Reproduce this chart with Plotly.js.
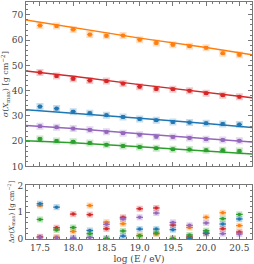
<!DOCTYPE html>
<html><head><meta charset="utf-8">
<script src="https://cdn.plot.ly/plotly-3.0.1.min.js"></script>
<style>html,body{margin:0;padding:0;background:#fff}#c{width:254px;height:264px}</style>
</head><body><div id="c"></div>
<script>
const logE = [17.5,17.75,18.0,18.25,18.5,18.75,19.0,19.25,19.5,19.75,20.0,20.25,20.5];
const fitX = [17.29,18.0,19.0,20.0,20.69];

const sigOrange = [65.8,65.6,64.2,62.2,61.7,61.8,60.2,58.9,58.2,57.6,57.0,54.8,54.2];
const sigRed    = [47.2,45.8,44.7,44.0,43.8,42.8,41.6,40.7,40.6,40.0,39.0,38.2,37.6];
const sigBlue   = [33.7,32.9,31.7,31.1,30.3,29.6,28.8,28.3,27.6,27.4,27.1,26.8,26.6];
const sigPurple = [25.9,25.5,25.0,24.5,23.7,23.2,22.6,21.8,21.7,21.3,20.8,20.5,20.2];
const sigGreen  = [20.9,20.1,19.8,19.3,18.6,18.1,17.7,17.2,16.8,16.7,16.4,16.4,16.1];

const fitOrange = [68.0,65.0,60.8,57.1,54.2];
const fitRed    = [47.8,45.7,42.4,39.4,37.2];
const fitBlue   = [32.5,31.2,29.1,27.0,25.4];
const fitPurple = [26.2,25.0,23.0,21.1,19.7];
const fitGreen  = [20.2,19.4,17.8,16.2,14.9];

const dOrange = [1.25,0.07,0.28,1.25,0.63,0.57,0.13,0.19,0.01,0.43,0.81,0.98,0.50];
const dRed    = [0.08,0.42,0.93,0.91,0.38,0.81,1.13,1.16,0.52,0.08,0.21,0.38,0.26];
const dBlue   = [1.32,1.19,0.02,0.32,0.01,0.11,0.37,0.37,0.35,0.03,0.22,0.56,0.75];
const dPurple = [0.06,0.05,0.04,0.06,0.55,0.75,0.81,0.97,0.62,0.51,0.60,0.20,0.19];
const dGreen  = [0.73,0.34,0.43,0.20,0.02,0.30,0.12,0.22,0.02,0.15,0.31,0.76,0.92];

const series = [
  {c:'#ff7f0e', s:sigOrange, f:fitOrange, d:dOrange},
  {c:'#d62728', s:sigRed, f:fitRed, d:dRed},
  {c:'#1f77b4', s:sigBlue, f:fitBlue, d:dBlue},
  {c:'#9467bd', s:sigPurple, f:fitPurple, d:dPurple},
  {c:'#2ca02c', s:sigGreen, f:fitGreen, d:dGreen}
];

const traces = [];
series.forEach(o => {
  traces.push({x:fitX, y:o.f, mode:'lines', line:{color:o.c, width:1.5}, xaxis:'x', yaxis:'y', hoverinfo:'skip'});
  traces.push({x:logE, y:o.s, mode:'markers', marker:{symbol:'square', size:7, color:o.c, opacity:0.25}, xaxis:'x', yaxis:'y'});
  traces.push({x:logE, y:o.s, mode:'markers', marker:{symbol:'circle', size:4, color:o.c},
    error_y:{type:'constant', value:0.5, color:o.c, thickness:1, width:2},
    error_x:{type:'constant', value:0.04, color:o.c, thickness:1, width:0}, xaxis:'x', yaxis:'y'});
  traces.push({x:logE, y:o.d, mode:'markers', marker:{symbol:'square', size:6, color:o.c, opacity:0.3}, xaxis:'x2', yaxis:'y2'});
  traces.push({x:logE, y:o.d, mode:'markers', marker:{symbol:'circle', size:3.5, color:o.c},
    error_x:{type:'constant', value:0.05, color:o.c, thickness:1.2, width:0}, xaxis:'x2', yaxis:'y2'});
});

const font = {family:'"DejaVu Serif","Liberation Serif",serif', size:9, color:'#444'};
const axBase = {showline:true, linecolor:'#777', linewidth:1, mirror:'allticks', ticks:'inside', ticklen:4, tickcolor:'#777',
  showgrid:false, zeroline:false, tickfont:{family:font.family, size:9, color:'#444'}};

const layout = {
  width:254, height:264, margin:{l:26, r:2, t:2, b:25}, showlegend:false,
  paper_bgcolor:'#fff', plot_bgcolor:'#fff', font:font,
  xaxis: Object.assign({}, axBase, {range:[17.29,20.69], domain:[0,1], anchor:'y', showticklabels:false, dtick:0.5, tick0:17.5,
    minor:{dtick:0.1, ticks:'inside', ticklen:2, tickcolor:'#777'}}),
  yaxis: Object.assign({}, axBase, {range:[10,75.1], domain:[0.306,1], anchor:'x', dtick:10, tick0:10,
    minor:{dtick:2, ticks:'inside', ticklen:2, tickcolor:'#777'},
    title:{text:'<i>σ</i>(<i>X</i><sub>max</sub>) [g cm<sup>−2</sup>]', font:{family:font.family, size:8, color:'#444'}, standoff:2}}),
  xaxis2: Object.assign({}, axBase, {range:[17.29,20.69], domain:[0,1], anchor:'y2', dtick:0.5, tick0:17.5, tickformat:'.1f',
    minor:{dtick:0.1, ticks:'inside', ticklen:2, tickcolor:'#777'},
    title:{text:'log (E / eV)', font:{family:font.family, size:9, color:'#444'}, standoff:4}}),
  yaxis2: Object.assign({}, axBase, {range:[0,2.02], domain:[0,0.228], anchor:'x2', dtick:1, tick0:0,
    minor:{dtick:0.2, ticks:'inside', ticklen:2, tickcolor:'#777'},
    title:{text:'Δ<i>σ</i>(<i>X</i><sub>max</sub>) [g cm<sup>−2</sup>]', font:{family:font.family, size:7, color:'#444'}, standoff:2}})
};

Plotly.newPlot('c', traces, layout, {staticPlot:true, displayModeBar:false});
</script></body></html>
